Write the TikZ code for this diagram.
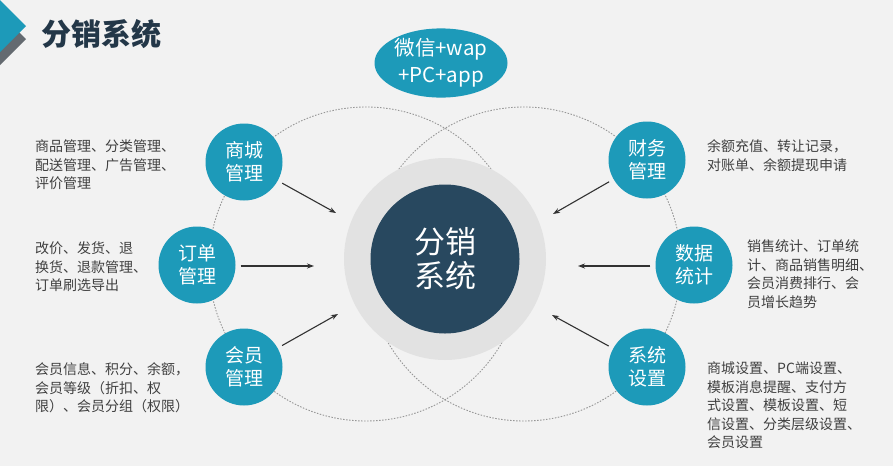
\documentclass[tikz,border=0pt]{standalone}
\usepackage{fontspec}
\setmainfont{Noto Sans CJK SC}
\usetikzlibrary{arrows.meta,shapes.geometric}
\definecolor{bgc}{RGB}{242,242,242}
\definecolor{teal1}{RGB}{29,154,185}
\definecolor{darkc}{RGB}{40,72,95}
\definecolor{ringc}{RGB}{226,226,226}
\definecolor{titlec}{RGB}{35,55,72}
\definecolor{txtc}{RGB}{64,64,64}
\definecolor{dashc}{RGB}{150,150,150}
\definecolor{arrowc}{RGB}{50,50,50}
\definecolor{shadowg}{RGB}{100,106,112}
\begin{document}
\begin{tikzpicture}[x=1pt,y=-1pt,
  mod/.style={circle,fill=teal1,minimum size=77pt,inner sep=0pt,text=white,align=center,font=\fontsize{19}{23}\selectfont},
  desc/.style={anchor=base west,align=left,inner sep=0pt,text=txtc,font=\fontsize{14}{18.5}\selectfont},
  conn/.style={draw=arrowc,line width=1.1pt,-{Stealth[length=7pt,width=5pt]},shorten <=5pt},
  orbit/.style={draw=dashc,line width=0.9pt,dash pattern=on 1.5pt off 1.5pt}]
\useasboundingbox (0,0) rectangle (893,466);
\fill[bgc] (0,0) rectangle (893,466);
% title decoration
\fill[shadowg] (0,13) -- (26,39) -- (0,65) -- cycle;
\fill[teal1] (0,0) -- (26,26) -- (0,52) -- cycle;
\node[anchor=west,inner sep=0pt,text=titlec,font=\fontsize{30}{30}\selectfont\bfseries] (title) at (41,34) {分销系统};
% orbits
\draw[orbit] (366,264) circle[radius=157pt];
\draw[orbit] (524,264) circle[radius=157pt];
% top ellipse
\node[ellipse,fill=teal1,minimum width=133pt,minimum height=62pt,inner sep=0pt,text=white,align=center,font=\fontsize{20.5}{27}\selectfont] (plat) at (441,63) {微信+wap\\+PC+app};
% center
\node[circle,fill=ringc,minimum size=202pt,inner sep=0pt] (ring) at (445,259) {};
\node[circle,fill=darkc,minimum size=149pt,inner sep=0pt,text=white,align=center,font=\fontsize{31}{34}\selectfont] (core) at (445,259) {分销\\系统};
% modules
\node[mod] (sc) at (244,162) {商城\\管理};
\node[mod] (dd) at (197,265) {订单\\管理};
\node[mod] (hy) at (244,367) {会员\\管理};
\node[mod] (cw) at (647,160) {财务\\管理};
\node[mod] (sj) at (694,265) {数据\\统计};
\node[mod] (xt) at (647,367) {系统\\设置};
% arrow ends
\coordinate (e1) at (336,213);
\coordinate (e2) at (314,266);
\coordinate (e3) at (338,314);
\coordinate (e4) at (553,214);
\coordinate (e5) at (578,266);
\coordinate (e6) at (552,315);
\draw[conn] (sc) -- (e1);
\draw[conn] (dd.east |- e2) -- (e2);
\draw[conn] (hy) -- (e3);
\draw[conn] (cw) -- (e4);
\draw[conn] (sj.west |- e5) -- (e5);
\draw[conn] (xt) -- (e6);
% descriptions (base anchor = last line baseline)
\node[desc] (d1) at (35,188.5) {商品管理、分类管理、\\配送管理、广告管理、\\评价管理};
\node[desc] (d2) at (35,290.5) {改价、发货、退\\换货、退款管理、\\订单刷选导出};
\node[desc] (d3) at (35,411.5) {会员信息、积分、余额，\\会员等级（折扣、权\\限）、会员分组（权限）};
\node[desc] (d4) at (707,170) {余额充值、转让记录，\\对账单、余额提现申请};
\node[desc] (d5) at (747,307) {销售统计、订单统\\计、商品销售明细、\\会员消费排行、会\\员增长趋势};
\node[desc] (d6) at (707,447.5) {商城设置、PC端设置、\\模板消息提醒、支付方\\式设置、模板设置、短\\信设置、分类层级设置、\\会员设置};
\end{tikzpicture}
\end{document}
